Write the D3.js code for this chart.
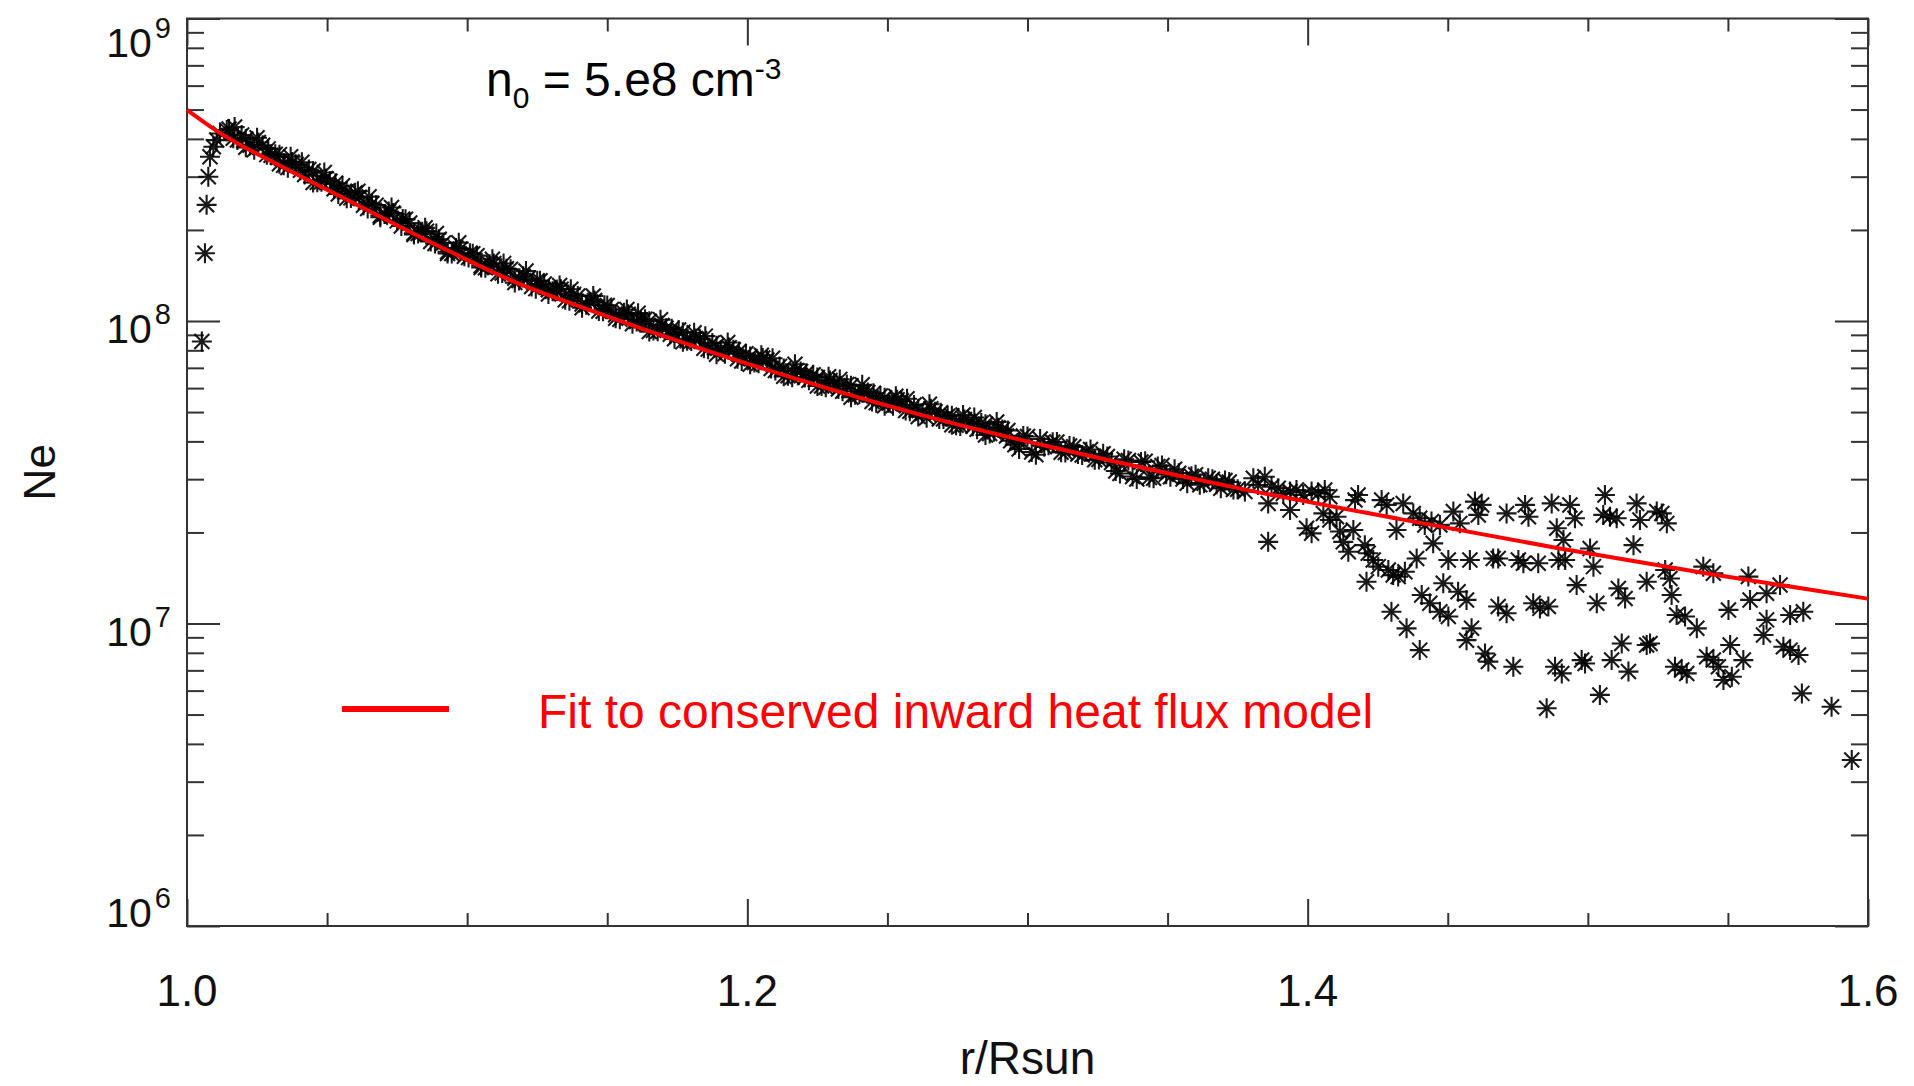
<!DOCTYPE html>
<html>
<head>
<meta charset="utf-8">
<script src="https://cdn.jsdelivr.net/npm/d3@7/dist/d3.min.js"></script>
<style>
  body { margin: 0; background: #fff; }
  svg { display: block; font-family: "Liberation Sans", Arial, Helvetica, sans-serif; }
</style>
</head>
<body>
<svg id="chart" width="1914" height="1086"></svg>
<script>
// ── Data (values are log10 Ne) ──────────────────────────────────────────────
// fit: conserved inward heat flux model
const rFit = [1.000, 1.011, 1.035, 1.059, 1.092, 1.118, 1.142, 1.185, 1.221, 1.268,
  1.310, 1.353, 1.376, 1.433, 1.490, 1.542, 1.600];
const logNeFit = [8.698, 8.626, 8.505, 8.392, 8.238, 8.125, 8.042, 7.904, 7.799, 7.675,
  7.580, 7.491, 7.446, 7.345, 7.248, 7.166, 7.082];

// points right at the limb
const rEdge = [1.0053, 1.0064, 1.0070, 1.0076, 1.0082, 1.0094, 1.0106, 1.0118, 1.0142];
const logNeEdge = [7.932, 8.224, 8.384, 8.477, 8.543, 8.576, 8.598, 8.620, 8.631];

// dense part of the profile (interleaved sets of samples)
const rBand = [1.015, 1.018, 1.021, 1.024, 1.027, 1.030, 1.033, 1.036, 1.039, 1.042,
  1.045, 1.048, 1.051, 1.054, 1.057, 1.060, 1.063, 1.066, 1.069, 1.072,
  1.075, 1.078, 1.081, 1.084, 1.087, 1.090, 1.093, 1.096, 1.099, 1.102,
  1.105, 1.108, 1.111, 1.114, 1.117, 1.120, 1.123, 1.126, 1.129, 1.132,
  1.135, 1.138, 1.141, 1.144, 1.147, 1.150, 1.153, 1.156, 1.159, 1.162,
  1.165, 1.168, 1.171, 1.174, 1.177, 1.180, 1.183, 1.186, 1.189, 1.192,
  1.195, 1.198, 1.201, 1.204, 1.207, 1.210, 1.213, 1.216, 1.219, 1.222,
  1.225, 1.228, 1.231, 1.234, 1.237, 1.240, 1.243, 1.246, 1.249, 1.252,
  1.255, 1.258, 1.261, 1.264, 1.267, 1.270, 1.273, 1.276, 1.279, 1.282,
  1.285, 1.288, 1.291, 1.294, 1.297, 1.300, 1.303, 1.306, 1.309, 1.312,
  1.315, 1.318, 1.321, 1.324, 1.327, 1.330, 1.333, 1.336, 1.339, 1.342,
  1.345, 1.348, 1.351, 1.354, 1.357, 1.360, 1.363, 1.366, 1.369, 1.372,
  1.375];
const logNeBand = [8.635, 8.598, 8.602, 8.566, 8.581, 8.548, 8.550, 8.507, 8.517, 8.484,
  8.496, 8.460, 8.462, 8.420, 8.428, 8.424, 8.383, 8.388, 8.349, 8.362,
  8.331, 8.336, 8.290, 8.295, 8.263, 8.270, 8.229, 8.241, 8.214, 8.222,
  8.183, 8.188, 8.156, 8.173, 8.141, 8.148, 8.114, 8.133, 8.103, 8.104,
  8.070, 8.088, 8.056, 8.063, 8.033, 8.051, 8.021, 8.027, 7.991, 8.001,
  7.999, 7.966, 7.976, 7.941, 7.963, 7.934, 7.941, 7.907, 7.918, 7.892,
  7.905, 7.868, 7.883, 7.860, 7.871, 7.836, 7.843, 7.814, 7.833, 7.804,
  7.813, 7.781, 7.793, 7.768, 7.786, 7.758, 7.764, 7.730, 7.746, 7.720,
  7.736, 7.702, 7.710, 7.680, 7.700, 7.676, 7.687, 7.653, 7.668, 7.642,
  7.659, 7.634, 7.641, 7.604, 7.577, 7.618, 7.558, 7.584, 7.599, 7.566,
  7.587, 7.560, 7.568, 7.541, 7.561, 7.532, 7.496, 7.539, 7.478, 7.536,
  7.480, 7.522, 7.485, 7.497, 7.464, 7.492, 7.464, 7.477, 7.447, 7.468,
  7.444];
const rBand2 = [1.0165, 1.0195, 1.0225, 1.0255, 1.0285, 1.0315, 1.0345, 1.0375, 1.0405, 1.0435,
  1.0465, 1.0495, 1.0525, 1.0555, 1.0585, 1.0615, 1.0645, 1.0675, 1.0705, 1.0735,
  1.0765, 1.0795, 1.0825, 1.0855, 1.0885, 1.0915, 1.0945, 1.0975, 1.1005, 1.1035,
  1.1065, 1.1095, 1.1125, 1.1155, 1.1185, 1.1215, 1.1245, 1.1275, 1.1305, 1.1335,
  1.1365, 1.1395, 1.1425, 1.1455, 1.1485, 1.1515, 1.1545, 1.1575, 1.1605, 1.1635,
  1.1665, 1.1695, 1.1725, 1.1755, 1.1785, 1.1815, 1.1845, 1.1875, 1.1905, 1.1935,
  1.1965, 1.1995, 1.2025, 1.2055, 1.2085, 1.2115, 1.2145, 1.2175, 1.2205, 1.2235,
  1.2265, 1.2295, 1.2325, 1.2355, 1.2385, 1.2415, 1.2445, 1.2475, 1.2505, 1.2535,
  1.2565, 1.2595, 1.2625, 1.2655, 1.2685, 1.2715, 1.2745, 1.2775, 1.2805, 1.2835,
  1.2865, 1.2895, 1.2925, 1.2955, 1.2985, 1.3015, 1.3045, 1.3075, 1.3105, 1.3135,
  1.3165, 1.3195, 1.3225, 1.3255, 1.3285, 1.3315, 1.3345, 1.3375, 1.3405, 1.3435,
  1.3465, 1.3495, 1.3525, 1.3555, 1.3585, 1.3615, 1.3645, 1.3675, 1.3705, 1.3735];
const logNeBand2 = [8.604, 8.615, 8.581, 8.590, 8.550, 8.551, 8.515, 8.526, 8.498, 8.501,
  8.459, 8.471, 8.437, 8.447, 8.407, 8.409, 8.372, 8.383, 8.354, 8.357,
  8.314, 8.324, 8.289, 8.297, 8.256, 8.258, 8.223, 8.237, 8.210, 8.216,
  8.176, 8.190, 8.159, 8.171, 8.134, 8.139, 8.107, 8.122, 8.098, 8.105,
  8.067, 8.083, 8.054, 8.068, 8.032, 8.038, 8.006, 8.022, 7.998, 8.006,
  7.969, 7.985, 7.956, 7.970, 7.935, 7.942, 7.910, 7.927, 7.903, 7.912,
  7.875, 7.892, 7.863, 7.878, 7.843, 7.850, 7.819, 7.836, 7.813, 7.822,
  7.785, 7.803, 7.775, 7.790, 7.756, 7.764, 7.734, 7.752, 7.730, 7.740,
  7.704, 7.722, 7.694, 7.710, 7.676, 7.685, 7.655, 7.674, 7.652, 7.663,
  7.628, 7.647, 7.620, 7.591, 7.620, 7.567, 7.610, 7.589, 7.600, 7.565,
  7.584, 7.557, 7.575, 7.542, 7.552, 7.504, 7.543, 7.486, 7.534, 7.483,
  7.519, 7.493, 7.510, 7.478, 7.487, 7.459, 7.480, 7.460, 7.473, 7.443];
const rBand3 = [1.017, 1.021, 1.025, 1.029, 1.033, 1.037, 1.041, 1.045, 1.049, 1.053,
  1.057, 1.061, 1.065, 1.069, 1.073, 1.077, 1.081, 1.085, 1.089, 1.093,
  1.097, 1.101, 1.105, 1.109, 1.113, 1.117, 1.121, 1.125, 1.129, 1.133,
  1.137, 1.141, 1.145, 1.149, 1.153, 1.157, 1.161, 1.165, 1.169, 1.173,
  1.177, 1.181, 1.185, 1.189, 1.193, 1.197, 1.201, 1.205, 1.209, 1.213,
  1.217, 1.221, 1.225, 1.229, 1.233, 1.237, 1.241, 1.245, 1.249, 1.253,
  1.257, 1.261, 1.265, 1.269, 1.273, 1.277, 1.281, 1.285, 1.289, 1.293,
  1.297];
const logNeBand3 = [8.641, 8.574, 8.606, 8.569, 8.520, 8.543, 8.525, 8.458, 8.491, 8.455,
  8.406, 8.429, 8.411, 8.343, 8.375, 8.337, 8.286, 8.308, 8.289, 8.223,
  8.259, 8.224, 8.177, 8.204, 8.190, 8.127, 8.165, 8.133, 8.089, 8.117,
  8.105, 8.044, 8.083, 8.052, 8.009, 8.038, 8.026, 7.965, 8.004, 7.974,
  7.931, 7.961, 7.950, 7.890, 7.929, 7.899, 7.857, 7.887, 7.877, 7.817,
  7.857, 7.827, 7.785, 7.816, 7.807, 7.748, 7.789, 7.761, 7.720, 7.751,
  7.743, 7.684, 7.725, 7.697, 7.657, 7.689, 7.681, 7.623, 7.666, 7.638,
  7.599];

// noisy outer part
const rOuter = [1.3776, 1.3806, 1.3823, 1.3847, 1.3871, 1.3895, 1.3913, 1.3937, 1.3960, 1.3984,
  1.4014, 1.4038, 1.4061, 1.4079, 1.3859, 1.3937, 1.3996, 1.4014, 1.4056, 1.4079,
  1.4103, 1.3859, 1.4115, 1.4127, 1.4145, 1.4163, 1.4180, 1.4169, 1.4204, 1.4216,
  1.4210, 1.4234, 1.4252, 1.4264, 1.4282, 1.4288, 1.4305, 1.4323, 1.4347, 1.4317,
  1.4341, 1.4377, 1.4400, 1.4389, 1.4418, 1.4442, 1.4472, 1.4448, 1.4502, 1.4299,
  1.4353, 1.4400, 1.4407, 1.4436, 1.4484, 1.4472, 1.4502, 1.4537, 1.4567, 1.4579,
  1.4567, 1.4585, 1.4520, 1.4543, 1.4597, 1.4621, 1.4609, 1.4633, 1.4645, 1.4662,
  1.4680, 1.4710, 1.4680, 1.4710, 1.4734, 1.4752, 1.4770, 1.4776, 1.4788, 1.4805,
  1.4823, 1.4829, 1.4853, 1.4859, 1.4871, 1.4883, 1.4889, 1.4895, 1.4936, 1.4954,
  1.4913, 1.5061, 1.5055, 1.5079, 1.5103, 1.5174, 1.5186, 1.5246, 1.5264, 1.5282,
  1.5008, 1.5020, 1.4919, 1.4960, 1.5032, 1.5109, 1.5133, 1.5210, 1.5163, 1.5276,
  1.5293, 1.5299, 1.5317, 1.5347, 1.5389, 1.5412, 1.5448, 1.5502, 1.5573, 1.5579,
  1.5638, 1.5638, 1.5627, 1.5686, 1.5722, 1.5769, 1.4907, 1.4978, 1.4990, 1.5085,
  1.5121, 1.5145, 1.5210, 1.5222, 1.5311, 1.5335, 1.5353, 1.5424, 1.5448, 1.5466,
  1.5484, 1.5508, 1.5514, 1.5555, 1.5698, 1.5722, 1.5752, 1.5043, 1.5764, 1.5870,
  1.5942];
const logNeOuter = [7.436, 7.480, 7.458, 7.485, 7.452, 7.447, 7.430, 7.436, 7.441, 7.425,
  7.436, 7.430, 7.441, 7.419, 7.397, 7.375, 7.315, 7.298, 7.364, 7.342,
  7.353, 7.270, 7.304, 7.270, 7.237, 7.309, 7.425, 7.408, 7.259, 7.232,
  7.138, 7.210, 7.188, 7.408, 7.392, 7.177, 7.160, 7.155, 7.171, 7.309,
  7.397, 7.364, 7.348, 7.215, 7.326, 7.337, 7.326, 7.265, 7.210, 7.039,
  6.984, 6.912, 7.094, 7.067, 7.133, 7.039, 7.023, 7.105, 7.078, 7.210,
  6.945, 6.984, 7.370, 7.331, 7.403, 7.392, 7.359, 6.901, 6.874, 7.215,
  7.215, 7.364, 7.056, 7.034, 6.857, 7.210, 7.199, 7.392, 7.353, 7.067,
  7.199, 7.050, 6.720, 7.056, 7.397, 6.857, 7.315, 7.210, 7.392, 7.348,
  7.276, 7.425, 7.359, 7.353, 7.348, 7.397, 7.342, 7.370, 7.364, 7.331,
  7.248, 7.188, 7.210, 7.127, 7.067, 7.116, 7.083, 7.138, 7.259, 7.177,
  7.149, 7.094, 7.028, 7.023, 6.984, 7.188, 7.166, 7.045, 7.155, 7.078,
  7.100, 7.012, 6.962, 7.127, 7.028, 7.039, 6.835, 6.879, 6.868, 6.879,
  6.934, 6.841, 6.929, 6.934, 6.857, 6.846, 6.835, 6.890, 6.879, 6.857,
  6.813, 6.929, 6.824, 6.879, 6.923, 6.912, 6.896, 6.764, 6.769, 6.725,
  6.549];

const xMajor = [1.0, 1.2, 1.4, 1.6];
const xMinor = [1.05, 1.1, 1.15, 1.25, 1.3, 1.35, 1.45, 1.5, 1.55];
const yExponents = [6, 7, 8, 9];

// ── Layout ──────────────────────────────────────────────────────────────────
const L = 187, R = 1868, T = 18.5, B = 926;
const svg = d3.select('#chart');
svg.append('rect').attr('width', 1914).attr('height', 1086).attr('fill', '#fff');

const x = d3.scaleLinear().domain([1.0, 1.6]).range([L, R]);
const y = d3.scaleLog().domain([1e6, 1e9]).range([B, T]);

const yMajor = yExponents.map(e => Math.pow(10, e));
const yMinor = [];
yExponents.slice(0, -1).forEach(e => {
  for (let m = 2; m <= 9; m++) yMinor.push(m * Math.pow(10, e));
});

const axisColor = '#333';
function styleAxis(g) {
  g.select('.domain').remove();
  g.selectAll('line').attr('stroke', axisColor).attr('stroke-width', 2);
  g.selectAll('text').remove();
}

// ticks point inward on all four sides
svg.append('g').attr('transform', `translate(0,${B})`)
  .call(d3.axisBottom(x).tickValues(xMinor).tickSize(-13)).call(styleAxis);
svg.append('g').attr('transform', `translate(0,${B})`)
  .call(d3.axisBottom(x).tickValues(xMajor).tickSize(-27)).call(styleAxis);
svg.append('g').attr('transform', `translate(0,${T})`)
  .call(d3.axisTop(x).tickValues(xMinor).tickSize(-13)).call(styleAxis);
svg.append('g').attr('transform', `translate(0,${T})`)
  .call(d3.axisTop(x).tickValues(xMajor).tickSize(-27)).call(styleAxis);
svg.append('g').attr('transform', `translate(${L},0)`)
  .call(d3.axisLeft(y).tickValues(yMinor).tickSize(-17)).call(styleAxis);
svg.append('g').attr('transform', `translate(${L},0)`)
  .call(d3.axisLeft(y).tickValues(yMajor).tickSize(-33)).call(styleAxis);
svg.append('g').attr('transform', `translate(${R},0)`)
  .call(d3.axisRight(y).tickValues(yMinor).tickSize(-17)).call(styleAxis);
svg.append('g').attr('transform', `translate(${R},0)`)
  .call(d3.axisRight(y).tickValues(yMajor).tickSize(-33)).call(styleAxis);

svg.append('rect')
  .attr('x', L).attr('y', T).attr('width', R - L).attr('height', B - T)
  .attr('fill', 'none').attr('stroke', axisColor).attr('stroke-width', 2);

// ── Tick labels ─────────────────────────────────────────────────────────────
svg.append('g').selectAll('text').data(xMajor).join('text')
  .attr('x', d => x(d)).attr('y', 1006)
  .attr('text-anchor', 'middle').attr('font-size', 44).attr('fill', '#111')
  .text(d => d.toFixed(1));

// labels sit a little below their tick, the top one more so
const yLabelDrop = { 6: 1, 7: 22, 8: 22, 9: 38 };
const yLab = svg.append('g').selectAll('text').data(yExponents).join('text')
  .attr('x', 171).attr('y', e => y(Math.pow(10, e)) + yLabelDrop[e])
  .attr('text-anchor', 'end').attr('font-size', 41).attr('fill', '#111');
yLab.append('tspan').text('10');
yLab.append('tspan').attr('font-size', 29).attr('dy', -19).attr('dx', 3).text(e => e);

svg.append('text')
  .attr('x', (L + R) / 2).attr('y', 1074)
  .attr('text-anchor', 'middle').attr('font-size', 46).attr('fill', '#111')
  .text('r/Rsun');
svg.append('text')
  .attr('transform', `translate(55,${(T + B) / 2}) rotate(-90)`)
  .attr('text-anchor', 'middle').attr('font-size', 44).attr('fill', '#111')
  .text('Ne');

// n0 annotation
const ann = svg.append('text').attr('x', 486).attr('y', 96)
  .attr('font-size', 48).attr('fill', '#000');
ann.append('tspan').text('n');
ann.append('tspan').attr('font-size', 30).attr('dy', 12).text('0');
ann.append('tspan').attr('dy', -12).text(' = 5.e8 cm');
ann.append('tspan').attr('font-size', 30).attr('dy', -17).text('-3');

// ── Data points ─────────────────────────────────────────────────────────────
const points = [];
[[rEdge, logNeEdge], [rBand, logNeBand], [rBand2, logNeBand2], [rBand3, logNeBand3],
 [rOuter, logNeOuter]]
  .forEach(([rs, ls]) => {
    rs.forEach((r, i) => points.push({ r, ne: Math.pow(10, ls[i]) }));
  });

const star = 'M-10,0H10M0,-10V10M-7.5,-7.5L7.5,7.5M-7.5,7.5L7.5,-7.5';
svg.append('g')
  .attr('fill', 'none').attr('stroke', '#000').attr('stroke-width', 2.1)
  .attr('stroke-opacity', 0.9)
  .selectAll('path').data(points).join('path')
  .attr('transform', d => `translate(${x(d.r)},${y(d.ne)})`)
  .attr('d', star);

// ── Fit curve ───────────────────────────────────────────────────────────────
const fit = rFit.map((r, i) => ({ r, ne: Math.pow(10, logNeFit[i]) }));
svg.append('path').datum(fit)
  .attr('fill', 'none').attr('stroke', '#ff0000').attr('stroke-width', 4)
  .attr('d', d3.line().x(d => x(d.r)).y(d => y(d.ne)).curve(d3.curveMonotoneX));

// ── Legend ──────────────────────────────────────────────────────────────────
svg.append('line').attr('x1', 342).attr('x2', 449).attr('y1', 709).attr('y2', 709)
  .attr('stroke', '#ff0000').attr('stroke-width', 6);
svg.append('text').attr('x', 538).attr('y', 728)
  .attr('font-size', 48).attr('fill', '#ff0000')
  .text('Fit to conserved inward heat flux model');
</script>
</body>
</html>
